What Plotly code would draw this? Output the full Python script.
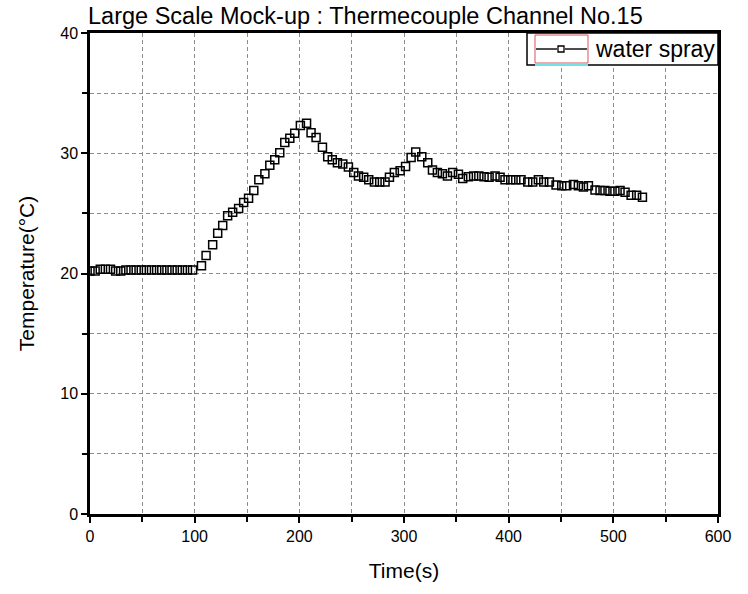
import plotly.graph_objects as go

time_s = [0, 4.9, 9.8, 14.7, 19.6, 24.5, 29.4, 34.3, 39.2, 44.1, 49, 53.9, 58.8, 63.7,
          68.6, 73.5, 78.4, 83.3, 88.2, 93.1, 98,
          106.5, 110.9, 117.2, 122, 126.8, 131.5, 136.3, 142, 146.8, 151.5, 156.5, 161.3,
          167.1, 171.8, 176.5, 181.3, 186.1, 190.9, 195.6, 201, 206.9,
          211.2, 216, 222.1, 227.1, 231.5, 236.4, 241.5, 246.9, 252, 256.5, 261.5, 266.3,
          271.7, 276.8, 281.9, 286.1, 290.8, 296.3, 301.5, 306.8, 311.2, 317, 322.7, 327.2,
          331.9, 336.7, 341.5, 346.5, 352, 356.1, 361.5, 366.5, 371.5, 376.5, 381.3, 387,
          391.8, 396.5, 402, 406.8, 411.8,
          418.2, 423, 428.4, 433.5, 438.9, 445.3, 450.7, 455.5, 461.9, 466.6, 471.4, 476.2,
          482.5, 487.3, 492, 496.8, 501.5, 506.4, 511.2, 517, 522.3, 527.8]

temp_c = [20.2, 20.2, 20.35, 20.35, 20.35, 20.2, 20.2, 20.3, 20.3, 20.3, 20.3, 20.3, 20.3, 20.3,
          20.3, 20.3, 20.3, 20.3, 20.3, 20.3, 20.3,
          20.65, 21.5, 22.4, 23.35, 24.0, 24.8, 25.1, 25.4, 25.9, 26.25, 26.9, 27.8,
          28.3, 29.0, 29.45, 30.05, 30.9, 31.25, 31.67, 32.3, 32.5,
          31.7, 31.3, 30.5, 29.7, 29.45, 29.2, 29.1, 28.85, 28.4, 28.1, 28.0, 27.8,
          27.6, 27.6, 27.6, 28.0, 28.4, 28.55, 28.9, 29.65, 30.1, 29.7, 29.2, 28.6,
          28.4, 28.3, 28.1, 28.4, 28.25, 27.9, 28.05, 28.1, 28.1, 28.05, 28.0, 28.1,
          28.0, 27.8, 27.8, 27.8, 27.8,
          27.6, 27.6, 27.8, 27.6, 27.6, 27.35, 27.3, 27.3, 27.4, 27.3, 27.2, 27.3,
          26.95, 26.9, 26.9, 26.85, 26.85, 26.9, 26.75, 26.5, 26.5, 26.35]

series_name = "water spray"
title_text = "Large Scale Mock-up : Thermecouple Channel No.15"
x_title = "Time(s)"
y_title = "Temperature(°C)"

FONT = "Liberation Sans, Arial, sans-serif"
W, H = 748, 594
ML, MR, MT, MB = 90, 30, 33, 80
PW, PH = W - ML - MR, H - MT - MB


def px(xp):
    return (xp - ML) / PW


def py(yp):
    return (H - MB - yp) / PH


fig = go.Figure()
fig.add_trace(go.Scatter(
    x=time_s, y=temp_c, mode="markers", showlegend=False, name=series_name,
    marker=dict(symbol="square-open", size=8, color="black", line=dict(width=1.5, color="black")),
))

grid = dict(showgrid=True, gridcolor="#8c8c8c", griddash="4px,3px", gridwidth=1)
axis_common = dict(
    showline=True, linecolor="black", linewidth=2.5, mirror=True,
    ticks="outside", ticklen=6, tickwidth=2, tickcolor="black",
    zeroline=False,
    tickfont=dict(family=FONT, size=16, color="black"),
    **grid,
)

fig.update_xaxes(
    range=[0, 600], dtick=100, tick0=0,
    title=dict(text=x_title, font=dict(family=FONT, size=21, color="black"), standoff=20),
    minor=dict(dtick=50, ticks="outside", ticklen=5, tickwidth=2, tickcolor="black", **grid),
    **axis_common,
)
fig.update_yaxes(
    range=[0, 40], dtick=10, tick0=0,
    title=dict(text=y_title, font=dict(family=FONT, size=21, color="black"), standoff=20),
    minor=dict(dtick=5, ticks="outside", ticklen=5, tickwidth=2, tickcolor="black", **grid),
    **axis_common,
)

# Manual legend box (line + symbol sample, like the original)
shapes = [
    dict(type="rect", xref="paper", yref="paper", x0=px(527), x1=px(718), y0=py(65), y1=py(33),
         line=dict(color="black", width=1.5), fillcolor="white", layer="above"),
    dict(type="rect", xref="paper", yref="paper", x0=px(535), x1=px(588), y0=py(63), y1=py(35),
         line=dict(color="#d9545e", width=1), layer="above"),
    dict(type="line", xref="paper", yref="paper", x0=px(535), x1=px(588), y0=py(65), y1=py(65),
         line=dict(color="#6fe3e8", width=2), layer="above"),
    dict(type="line", xref="paper", yref="paper", x0=px(536), x1=px(557), y0=py(49), y1=py(49),
         line=dict(color="black", width=1.4), layer="above"),
    dict(type="line", xref="paper", yref="paper", x0=px(565), x1=px(587), y0=py(49), y1=py(49),
         line=dict(color="black", width=1.4), layer="above"),
    dict(type="rect", xref="paper", yref="paper", x0=px(558), x1=px(564), y0=py(52), y1=py(46),
         line=dict(color="black", width=1.3), fillcolor="white", layer="above"),
]

fig.update_layout(
    width=W, height=H,
    margin=dict(l=ML, r=MR, t=MT, b=MB),
    paper_bgcolor="white", plot_bgcolor="white",
    showlegend=False,
    shapes=shapes,
    annotations=[dict(text=series_name, xref="paper", yref="paper", x=px(593), y=py(49),
                      xanchor="left", yanchor="middle", showarrow=False,
                      font=dict(family=FONT, size=23, color="black"))],
    title=dict(text=title_text, x=88 / W, xanchor="left", y=1 - 16 / H, yanchor="middle",
               font=dict(family=FONT, size=23.5, color="black")),
)

fig.write_html("out.html")
